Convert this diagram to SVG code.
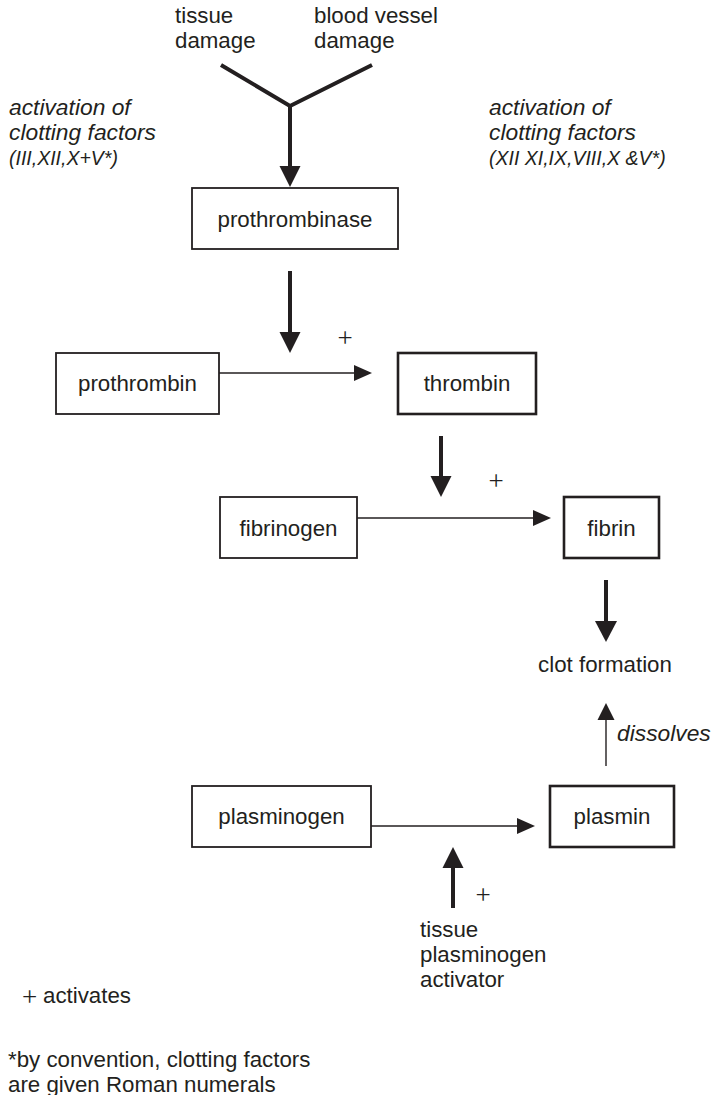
<svg xmlns="http://www.w3.org/2000/svg" width="719" height="1095" viewBox="0 0 719 1095">
<style>
text{font-family:"Liberation Sans",Arial,sans-serif;font-size:22.3px;fill:#231f20}
.it{font-style:italic;font-size:22.8px}
.it2{font-style:italic;font-size:19.5px}
.plus{font-family:"Liberation Serif","Times New Roman",serif;font-size:27px}
.box{fill:#fff;stroke:#231f20;stroke-width:1.8}
.boxb{fill:#fff;stroke:#231f20;stroke-width:2.6}
.thick{stroke:#231f20;stroke-width:4;fill:none}
.thin{stroke:#231f20;stroke-width:1.4;fill:none}
.head{fill:#231f20}
</style>
<rect width="719" height="1095" fill="#fff"/>
<g id="labels-top">
<text x="175" y="23">tissue</text>
<text x="175" y="48">damage</text>
<text x="314" y="23">blood vessel</text>
<text x="314" y="48">damage</text>
</g>
<g id="notes">
<text class="it" x="9" y="115">activation of</text>
<text class="it" x="9" y="140">clotting factors</text>
<text class="it2" x="9" y="165">(III,XII,X+V*)</text>
<text class="it" x="489" y="115">activation of</text>
<text class="it" x="489" y="140">clotting factors</text>
<text class="it2" x="489" y="165">(XII XI,IX,VIII,X &amp;V*)</text>
</g>
<g id="connectors">
<polyline class="thick" stroke-width="3" points="221,65 290,106 372,65"/>
<line class="thick" x1="290" y1="106" x2="290" y2="168"/>
<polygon class="head" points="279.5,166 300.5,166 290,187"/>
<line class="thick" x1="290" y1="271" x2="290" y2="334"/>
<polygon class="head" points="279.5,332 300.5,332 290,353"/>
<line class="thin" x1="219" y1="373" x2="356" y2="373"/>
<polygon class="head" points="354,365 354,381 372,373"/>
<line class="thick" x1="441" y1="436" x2="441" y2="478"/>
<polygon class="head" points="430.5,476 451.5,476 441,497"/>
<line class="thin" x1="357" y1="518" x2="535" y2="518"/>
<polygon class="head" points="533,510 533,526 551,518"/>
<line class="thick" x1="606" y1="580" x2="606" y2="623"/>
<polygon class="head" points="595,621 617,621 606,642"/>
<line class="thin" x1="606" y1="766" x2="606" y2="718"/>
<polygon class="head" points="597.5,720 614.5,720 606,703"/>
<line class="thin" x1="371" y1="826" x2="519" y2="826"/>
<polygon class="head" points="517,818 517,834 535,826"/>
<line class="thick" x1="453" y1="908" x2="453" y2="866"/>
<polygon class="head" points="442.5,868 463.5,868 453,847"/>
<text class="plus" x="345" y="347" text-anchor="middle">+</text>
<text class="plus" x="496" y="490" text-anchor="middle">+</text>
<text class="plus" x="483" y="904" text-anchor="middle">+</text>
<text class="it" x="617" y="741">dissolves</text>
</g>
<g id="prothrombinase">
<rect class="box" x="192" y="188" width="206" height="61"/>
<text x="295" y="227" text-anchor="middle">prothrombinase</text>
</g>
<g id="prothrombin">
<rect class="box" x="56" y="353" width="163" height="61"/>
<text x="137.5" y="391" text-anchor="middle">prothrombin</text>
</g>
<g id="thrombin">
<rect class="boxb" x="398" y="353" width="138" height="61"/>
<text x="467" y="391" text-anchor="middle">thrombin</text>
</g>
<g id="fibrinogen">
<rect class="box" x="220" y="497" width="137" height="61"/>
<text x="288.5" y="536" text-anchor="middle">fibrinogen</text>
</g>
<g id="fibrin">
<rect class="boxb" x="564" y="497" width="95" height="61"/>
<text x="611.5" y="536" text-anchor="middle">fibrin</text>
</g>
<g id="clot-formation">
<text x="605" y="672" text-anchor="middle">clot formation</text>
</g>
<g id="plasminogen">
<rect class="box" x="192" y="786" width="179" height="61"/>
<text x="281.5" y="824" text-anchor="middle">plasminogen</text>
</g>
<g id="plasmin">
<rect class="boxb" x="550" y="786" width="124" height="61"/>
<text x="612" y="824" text-anchor="middle">plasmin</text>
</g>
<g id="tpa">
<text x="420" y="937">tissue</text>
<text x="420" y="962">plasminogen</text>
<text x="420" y="987">activator</text>
</g>
<g id="legend">
<text class="plus" x="22" y="1006">+</text>
<text x="43" y="1003">activates</text>
<text x="8" y="1067">*by convention, clotting factors</text>
<text x="8" y="1092">are given Roman numerals</text>
</g>
</svg>
